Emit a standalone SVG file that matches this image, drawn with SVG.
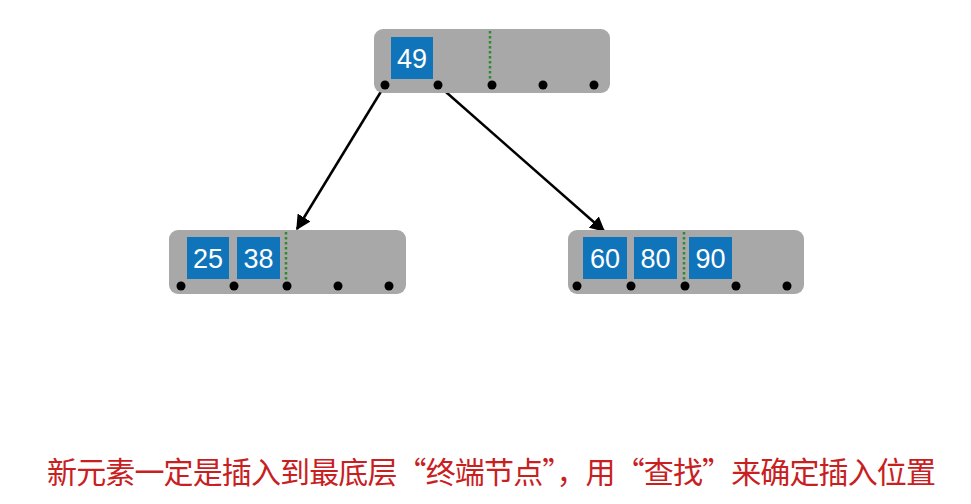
<svg xmlns="http://www.w3.org/2000/svg" width="971" height="504" viewBox="0 0 971 504">
<defs>
<style>
.node{fill:#a8a8a8;}
.key{fill:#0f74ba;}
.kt{fill:#fff;font-family:"Liberation Sans",Arial,sans-serif;font-size:27px;text-anchor:middle;}
.dot{fill:#000;}
.sep{stroke:#2f8a2f;stroke-width:2.5;stroke-dasharray:2.5 2.5;}
.edge{stroke:#000;stroke-width:2.5;fill:none;marker-end:url(#ah);}
.cap{fill:#c8201f;font-family:"Noto Sans CJK SC","Noto Sans",sans-serif;font-size:30px;}
</style>
<marker id="ah" viewBox="0 0 10 10" refX="9" refY="5" markerWidth="6" markerHeight="6" orient="auto" markerUnits="strokeWidth">
<path d="M0,0 L10,5 L0,10 z" fill="#000"/>
</marker>
</defs>
<rect width="971" height="504" fill="#fff"/>
<g id="connectors">
<line class="edge" x1="385" y1="85" x2="297" y2="229"/>
<line class="edge" x1="438" y1="85" x2="604" y2="231"/>
</g>
<g id="root">
<rect class="node" x="374" y="29" width="236" height="64" rx="9"/>
<rect class="key" x="391" y="37" width="42" height="42"/>
<text class="kt" x="412" y="68">49</text>
<line class="sep" x1="490" y1="31" x2="490" y2="79"/>
<circle class="dot" cx="385" cy="85" r="4.5"/>
<circle class="dot" cx="438" cy="85" r="4.5"/>
<circle class="dot" cx="492" cy="85" r="4.5"/>
<circle class="dot" cx="543" cy="85" r="4.5"/>
<circle class="dot" cx="594" cy="85" r="4.5"/>
</g>
<g id="left">
<rect class="node" x="169" y="230" width="237" height="64" rx="9"/>
<rect class="key" x="187" y="237" width="42" height="42"/>
<text class="kt" x="208" y="268">25</text>
<rect class="key" x="237" y="237" width="43" height="42"/>
<text class="kt" x="258.5" y="268">38</text>
<line class="sep" x1="286" y1="232" x2="286" y2="280"/>
<circle class="dot" cx="181" cy="286" r="4.5"/>
<circle class="dot" cx="234" cy="286" r="4.5"/>
<circle class="dot" cx="287" cy="286" r="4.5"/>
<circle class="dot" cx="338" cy="286" r="4.5"/>
<circle class="dot" cx="389" cy="286" r="4.5"/>
</g>
<g id="right">
<rect class="node" x="568" y="230" width="236" height="64" rx="9"/>
<rect class="key" x="583" y="237" width="44" height="42"/>
<text class="kt" x="605" y="268">60</text>
<rect class="key" x="634" y="237" width="43" height="42"/>
<text class="kt" x="655.5" y="268">80</text>
<rect class="key" x="689" y="237" width="43" height="42"/>
<text class="kt" x="710.5" y="268">90</text>
<line class="sep" x1="684" y1="232" x2="684" y2="280"/>
<circle class="dot" cx="577" cy="286" r="4.5"/>
<circle class="dot" cx="631" cy="286" r="4.5"/>
<circle class="dot" cx="685" cy="286" r="4.5"/>
<circle class="dot" cx="736" cy="286" r="4.5"/>
<circle class="dot" cx="787" cy="286" r="4.5"/>
</g>
<g id="caption">
<text class="cap" x="47" y="483" textLength="889" lengthAdjust="spacing">新元素一定是插入到最底层“终端节点”，用“查找”来确定插入位置</text>
</g>
</svg>
